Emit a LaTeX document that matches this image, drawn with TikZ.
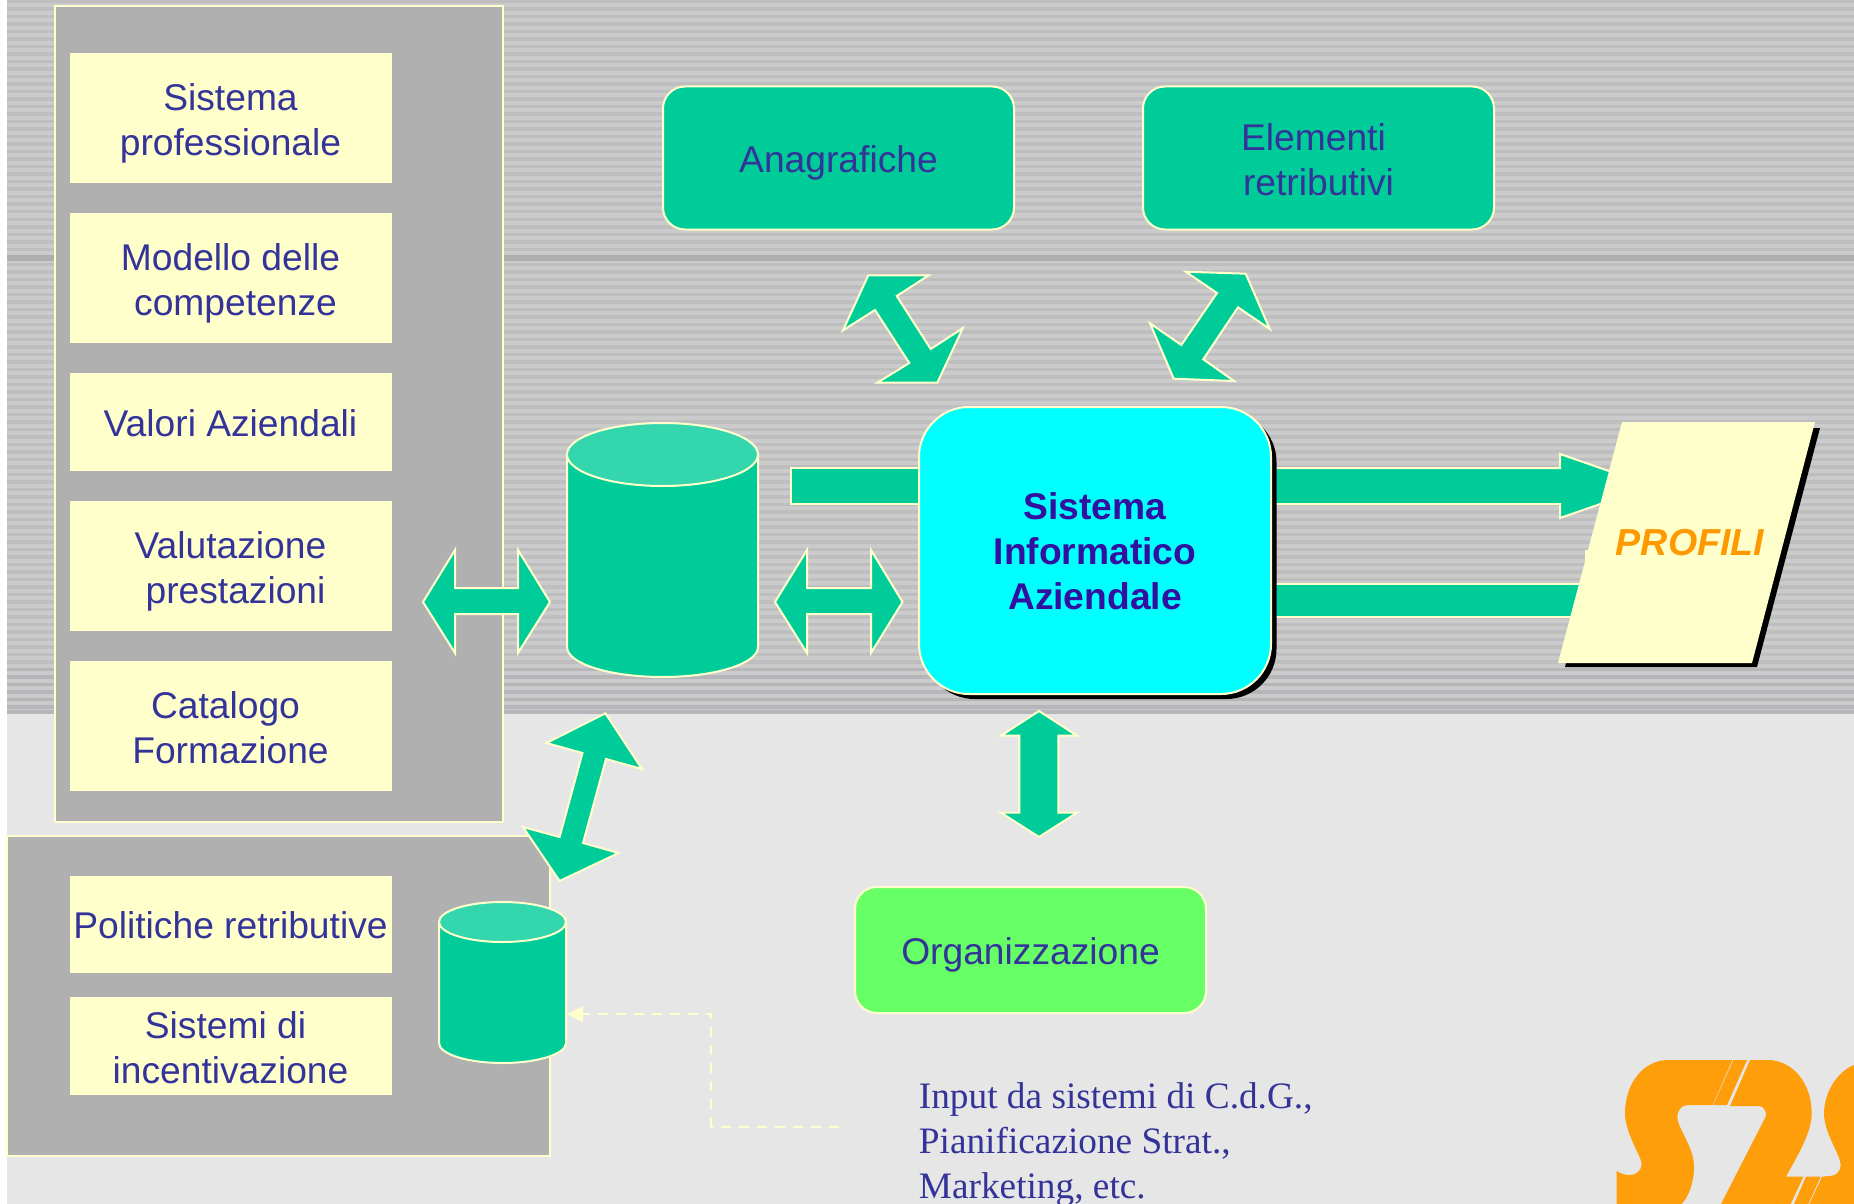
\documentclass[tikz,border=0pt]{standalone}
\usepackage{fontspec}
\setmainfont{Liberation Sans}
\newfontfamily\timesf{Liberation Serif}
\definecolor{grn}{HTML}{00CC99}
\definecolor{grntop}{HTML}{33D6AD}
\definecolor{cyn}{HTML}{00FFFF}
\definecolor{lime}{HTML}{66FF66}
\definecolor{ylw}{HTML}{FFFFCC}
\definecolor{ink}{HTML}{333399}
\definecolor{boldink}{HTML}{3311A0}
\definecolor{org}{HTML}{FF9900}
\definecolor{logoorg}{HTML}{FF9E0B}
\definecolor{panelgr}{HTML}{B0B0B0}
\definecolor{lower}{HTML}{E6E6E6}
\definecolor{bandlight}{HTML}{CBCBCB}
\definecolor{banddark}{HTML}{BEBEBE}
\definecolor{bandlow}{HTML}{B6B6BA}
\definecolor{bandline}{HTML}{AEAEAE}
\tikzset{
  x=0.5pt,y=-0.5pt,
  txt/.style={font=\fontsize{18.6}{22.5}\selectfont,text=ink,align=center,inner sep=0pt},
  panel/.style={fill=panelgr,draw=ylw,line width=1pt},
  ybox/.style={rectangle,inner sep=0pt,fill=ylw,minimum width=161pt},
  grnbox/.style={rectangle,inner sep=0pt,rounded corners=11pt,fill=grn,draw=ylw,line width=1pt,minimum width=175.5pt,minimum height=71.5pt},
  blockarrow/.style={fill=grn,draw=ylw,line width=1pt,line join=miter},
  cylbody/.style={fill=grn,draw=ylw,line width=1pt},
  cyltop/.style={fill=grntop,draw=ylw,line width=1pt},
  logo/.style={fill=logoorg,draw=none},
}
\begin{document}
\begin{tikzpicture}
\useasboundingbox (0,0) rectangle (1854,1204);
\fill[white] (0,0) rectangle (1854,1204);
% background
\fill[lower] (7,714) rectangle (1854,1204);
\fill[bandlight] (7,0) rectangle (1854,714);
\foreach \yy in {0,7.5,...,710} {\fill[banddark] (7,\yy) rectangle (1854,\yy+3.5);}
\foreach \yy in {667.5,675,...,710} {\fill[bandlow] (7,\yy) rectangle (1854,\yy+3.5);}
\fill[bandlow] (7,710) rectangle (1854,714);
\fill[bandline] (7,255) rectangle (1854,261);
% panels
\draw[panel] (54.5,6) rectangle (503,822);
\draw[panel] (7,836) rectangle (550,1156);
% yellow boxes
\node[ybox,minimum height=65pt] (b1) at (230.5,118) {};
\node[ybox,minimum height=65pt] (b2) at (230.5,278) {};
\node[ybox,minimum height=49pt] (b3) at (230.5,422) {};
\node[ybox,minimum height=65pt] (b4) at (230.5,565.5) {};
\node[ybox,minimum height=65pt] (b5) at (230.5,726) {};
\node[ybox,minimum height=48.5pt] (b6) at (230.5,924.5) {};
\node[ybox,minimum height=49pt] (b7) at (230.5,1046) {};
\node[txt] (t1) at (230.5,123) {Sistema\\professionale};
\node[txt] (t2) at (230.5,283) {Modello delle\\\hspace*{0.27em}competenze};
\node[txt] (t3) at (230.5,423) {Valori Aziendali};
\node[txt] (t4) at (230.5,571.5) {Valutazione\\\hspace*{0.27em}prestazioni};
\node[txt] (t5) at (230.5,727.5) {Catalogo\hspace*{0.27em}\\Formazione};
\node[txt] (t6) at (230.5,925.5) {Politiche retributive};
\node[txt] (t7) at (230.5,1047.5) {Sistemi di\hspace*{0.27em}\\incentivazione};
% green boxes
\node[grnbox] (ana) at (838.5,158) {};
\node[grnbox] (ele) at (1318.5,158) {};
\node[grnbox,fill=lime,minimum height=63pt] (organ) at (1030.5,950) {};
\node[txt] (tana) at (838.5,162.5) {Anagrafiche};
\node[txt] (tele) at (1318.5,159.5) {Elementi\hspace*{0.27em}\\retributivi};
\node[txt] (torg) at (1030.5,954.5) {Organizzazione};
% right arrows (behind PROFILI)
\draw[blockarrow] (1272,468) -- (1560,468) -- (1560,454) -- (1652,486) -- (1560,518) -- (1560,504) -- (1272,504);
\draw[blockarrow] (1272,584) -- (1620,584) -- (1620,617) -- (1272,617);
% left bar
\draw[blockarrow] (925,468.3) -- (790.7,468.3) -- (790.7,504.3) -- (925,504.3);
% PROFILI
\fill[black] (1627,428) -- (1820,428) -- (1757,667) -- (1565,667) -- cycle;
\fill[ylw] (1622,422) -- (1815,422) -- (1752,663) -- (1558,663) -- cycle;
\fill[ylw] (1585,550) rectangle (1590,563);
\node[font=\fontsize{18.8}{22}\bfseries\itshape\selectfont,text=org,inner sep=0pt] (prof) at (1690,543) {PROFILI};
% central box
\node[rectangle,rounded corners=25pt,fill=black,minimum width=176pt,minimum height=143.5pt] (shd) at (1100.5,555.5) {};
\node[rectangle,rounded corners=25pt,fill=cyn,draw=ylw,line width=1pt,minimum width=176pt,minimum height=143.5pt] (sia) at (1095,550.5) {};
\node[txt,text=boldink,font=\fontsize{18.6}{22.5}\bfseries\selectfont] (tsia) at (1095,551.5) {Sistema\\Informatico\\Aziendale};
% big cylinder
\draw[cylbody] (567,454.5) -- (567,647) arc[start angle=180,end angle=0,x radius=95.5,y radius=30] -- (758,454.5) -- cycle;
\draw[cyltop] (662.5,454.5) ellipse [x radius=95.5,y radius=31.5];
% small cylinder
\draw[cylbody] (439,922) -- (439,1043) arc[start angle=180,end angle=0,x radius=63.5,y radius=20] -- (566,922) -- cycle;
\draw[cyltop] (502.5,922) ellipse [x radius=63.5,y radius=20];
% double arrows
\draw[blockarrow] (423,602) -- (455,550) -- (455,588) -- (518,588) -- (518,550) -- (550,602) -- (518,653) -- (518,614) -- (455,614) -- (455,653) -- cycle;
\draw[blockarrow] (775,602) -- (807,550) -- (807,588) -- (871,588) -- (871,550) -- (902.5,602) -- (871,653) -- (871,614) -- (807,614) -- (807,653) -- cycle;
\draw[blockarrow] (605.4,713.3) -- (642,769) -- (606,759) -- (583,843) -- (618.6,853) -- (559.6,881) -- (523,827) -- (559.6,837) -- (582.5,753) -- (546.4,743) -- cycle;
\draw[blockarrow] (868.3,275.3) -- (928.7,275.3) -- (896.7,296) -- (930.7,349) -- (962.7,328.3) -- (937.3,382.7) -- (877.3,382.7) -- (909.3,363) -- (875,310) -- (843,330.3) -- cycle;
\draw[blockarrow] (1185.7,271.7) -- (1245.7,273.7) -- (1269.7,329) -- (1238,307.3) -- (1203.3,359.3) -- (1234,381) -- (1173.7,378.7) -- (1150,323.3) -- (1181.3,345) -- (1217,293) -- cycle;
\draw[blockarrow] (1039,711) -- (1077,735.7) -- (1058.3,735.7) -- (1058.3,812.7) -- (1077,812.7) -- (1039,837) -- (1001,812.7) -- (1019.3,812.7) -- (1019.3,735.7) -- (1001,735.7) -- cycle;
% dashed connector
\coordinate (dstart) at (839,1127);
\coordinate (dbend) at (711,1127);
\coordinate (dbend2) at (711,1014);
\coordinate (dend) at (580,1014);
\coordinate (dtip) at (567,1014);
\draw[ylw,line width=0.8pt,dash pattern=on 5pt off 4pt] (dstart) -- (dbend);
\draw[ylw,line width=1pt,dash pattern=on 5pt off 4pt] (dbend) -- (dbend2) -- (dend);
\fill[ylw] (dtip) -- (583,1006) -- (583,1022) -- cycle;
% input text
\node[anchor=north west,inner sep=0pt,align=left,font=\timesf\fontsize{18.65}{22.5}\selectfont,text=ink] (inp) at (918.5,1082) {Input da sistemi di C.d.G.,\\Pianificazione Strat.,\\Marketing, etc.};
% logo
\begin{scope}[shift={(750pt,-500pt)},x=0.16667pt,y=-0.16667pt]
\fill[logo] (350,612) -- (350,513) .. controls (365,522) and (375,525) .. (388,525) .. controls (410,525) and (425,510) .. (425,492) .. controls (425,470) and (375,400) .. (375,340) .. controls (375,250) and (430,180) .. (505,180) -- (697,180) -- (638,315) -- (565,315) .. controls (545,315) and (532,330) .. (532,350) .. controls (532,385) and (582,440) .. (582,500) .. controls (582,550) and (565,590) .. (545,612) -- cycle;
\fill[logo] (700,180) -- (741,180) -- (681,315) -- (640,315) -- cycle;
\fill[logo] (750,180) -- (810,180) .. controls (880,185) and (935,250) .. (935,340) .. controls (935,400) and (890,470) .. (858,530) -- (910,530) -- (872,612) -- (663,612) -- (797,350) .. controls (802,335) and (790,318) .. (778,318) -- (690,318) -- cycle;
\fill[logo] (918,530) -- (962,530) -- (925,612) -- (882,612) -- cycle;
\fill[logo] (966,530) -- (990,528) .. controls (1010,528) and (1022,512) .. (1022,495) .. controls (1022,465) and (972,400) .. (972,340) .. controls (972,280) and (1010,215) .. (1062,195) -- (1062,612) -- (928,612) -- cycle;
\end{scope}
\end{tikzpicture}
\end{document}
